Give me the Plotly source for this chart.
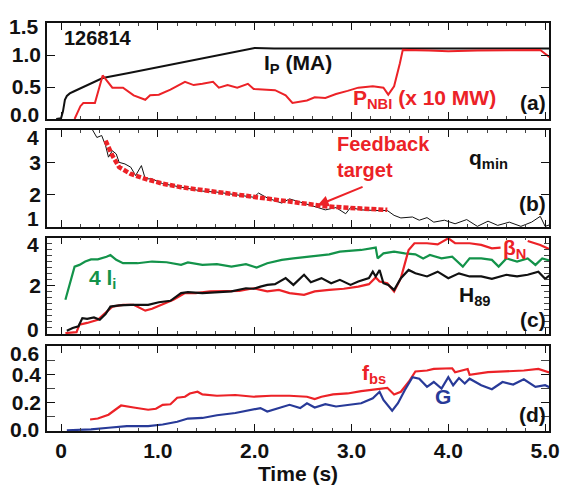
import plotly.graph_objects as go
from plotly.subplots import make_subplots

# ---------------- data ----------------
# panel (a)
ip_t = [-0.05, 0.0, 0.02, 0.04, 0.06, 0.09, 0.13, 0.2, 0.3, 0.43, 0.7, 1.0, 1.3, 1.6, 1.8, 2.0, 2.2, 2.5, 2.8, 3.1, 3.4, 3.7, 4.0, 4.3, 4.6, 4.9, 5.09]
ip_v = [0.0, 0.01, 0.12, 0.3, 0.36, 0.4, 0.43, 0.48, 0.56, 0.64, 0.72, 0.81, 0.9, 0.99, 1.05, 1.11, 1.1, 1.1, 1.11, 1.1, 1.1, 1.11, 1.1, 1.1, 1.11, 1.1, 1.1]

pnbi_t = [0.14, 0.2, 0.23, 0.35, 0.43, 0.53, 0.64, 0.75, 0.87, 0.92, 1.01, 1.13, 1.28, 1.37, 1.46, 1.57, 1.63, 1.72, 1.82, 1.93, 1.99,
          2.21, 2.32, 2.39, 2.54, 2.62, 2.73, 2.84, 2.96, 3.07, 3.22, 3.33, 3.38, 3.44, 3.5, 3.53, 3.8, 4.0, 4.3, 4.6, 4.95, 5.06]
pnbi_v = [0.0, 0.2, 0.25, 0.25, 0.68, 0.49, 0.49, 0.37, 0.30, 0.37, 0.38, 0.46, 0.58, 0.53, 0.55, 0.58, 0.49, 0.53, 0.49, 0.55, 0.47,
          0.45, 0.37, 0.25, 0.29, 0.34, 0.33, 0.39, 0.44, 0.49, 0.51, 0.49, 0.38, 0.51, 0.87, 1.08, 1.07, 1.06, 1.07, 1.07, 1.08, 0.95]

# panel (b)
qmin_t = [0.32, 0.37, 0.42, 0.46, 0.49, 0.53, 0.57, 0.60, 0.66, 0.72, 0.77, 0.83, 0.87, 0.94, 1.05, 1.16, 1.31, 1.46, 1.61, 1.80, 1.99, 2.04,
          2.13, 2.28, 2.36, 2.47, 2.58, 2.67, 2.73, 2.84, 2.94, 2.99, 3.10, 3.25, 3.37, 3.44, 3.51, 3.63, 3.70, 3.78, 3.85, 3.96,
          4.07, 4.19, 4.30, 4.41, 4.51, 4.63, 4.75, 4.86, 4.95, 5.0, 5.06]
qmin_v = [4.03, 3.77, 3.83, 3.52, 3.16, 3.36, 3.26, 3.0, 2.95, 2.85, 2.59, 2.90, 2.49, 2.49, 2.34, 2.28, 2.18, 2.11, 2.08, 2.01, 1.92, 2.05,
          1.90, 1.74, 1.87, 1.77, 1.67, 1.57, 1.53, 1.60, 1.41, 1.60, 1.53, 1.51, 1.51, 1.36, 1.28, 1.31, 1.21, 1.29, 1.15, 1.21,
          1.10, 1.23, 1.02, 1.18, 1.05, 1.15, 1.02, 1.15, 1.33, 1.02, 1.08]

target_t = [0.46, 0.53, 0.60, 0.72, 0.87, 1.05, 1.24, 1.61, 1.99, 2.36, 2.73, 3.10, 3.37]
target_v = [3.67, 3.21, 2.85, 2.64, 2.49, 2.34, 2.23, 2.08, 1.95, 1.77, 1.64, 1.57, 1.53]

# panel (c)
li_t = [0.045, 0.09, 0.14, 0.19, 0.25, 0.31, 0.38, 0.47, 0.51, 0.57, 0.64, 0.79, 0.94, 1.09, 1.24, 1.31, 1.46, 1.61, 1.76, 1.91, 2.02,
        2.13, 2.28, 2.40, 2.54, 2.66, 2.77, 2.88, 2.99, 3.10, 3.25, 3.27, 3.33, 3.44, 3.55, 3.66, 3.74, 3.81, 3.93, 4.04, 4.15,
        4.22, 4.34, 4.45, 4.52, 4.60, 4.71, 4.82, 4.90, 4.97, 5.06]
li_v = [1.42, 2.11, 2.80, 2.87, 3.01, 3.10, 3.10, 3.21, 3.28, 3.08, 2.94, 2.94, 3.01, 2.98, 2.87, 2.97, 2.87, 2.90, 2.80, 2.90, 2.76,
        2.94, 3.08, 3.14, 3.21, 3.28, 3.31, 3.42, 3.45, 3.49, 3.59, 3.14, 3.35, 3.42, 3.35, 3.31, 3.14, 3.28, 3.14, 3.21, 2.80,
        3.14, 3.14, 3.08, 2.80, 3.14, 3.01, 3.14, 2.87, 3.14, 3.03]

h89_t = [0.06, 0.12, 0.18, 0.22, 0.27, 0.34, 0.40, 0.46, 0.51, 0.60, 0.72, 0.90, 1.01, 1.13, 1.24, 1.31, 1.46, 1.61, 1.76, 1.91, 1.99,
         2.06, 2.13, 2.21, 2.32, 2.40, 2.51, 2.58, 2.69, 2.79, 2.88, 2.99, 3.07, 3.18, 3.22, 3.25, 3.29, 3.33, 3.38, 3.44, 3.51,
         3.59, 3.66, 3.78, 3.89, 4.0, 4.11, 4.22, 4.34, 4.45, 4.60, 4.71, 4.82, 4.93, 5.0, 5.06]
h89_v = [0.14, 0.25, 0.32, 0.66, 0.63, 0.69, 0.59, 0.83, 1.14, 1.19, 1.21, 1.21, 1.32, 1.38, 1.70, 1.74, 1.70, 1.74, 1.77, 1.90, 1.88,
         1.97, 2.04, 2.07, 2.32, 2.04, 2.46, 2.15, 2.32, 2.11, 2.25, 2.04, 2.18, 2.32, 2.59, 2.39, 2.66, 2.11, 2.04, 1.83, 2.32,
         2.66, 2.52, 2.39, 2.59, 2.32, 2.52, 2.39, 2.39, 2.29, 2.46, 2.39, 2.46, 2.59, 2.29, 2.48]

betan_t = [0.045, 0.16, 0.19, 0.27, 0.38, 0.46, 0.53, 0.64, 0.75, 0.87, 0.94, 1.05, 1.16, 1.28, 1.39, 1.54, 1.69, 1.84, 1.99, 2.13,
           2.25, 2.36, 2.51, 2.62, 2.77, 2.92, 3.07, 3.18, 3.25, 3.29, 3.37, 3.44, 3.51, 3.59, 3.65, 3.78, 3.89, 4.0, 4.07, 4.22,
           4.34, 4.45, 4.54, 4.56, 4.80, 4.82, 4.95, 5.06]
betan_v = [0.04, 0.08, 0.39, 0.46, 0.59, 0.87, 1.14, 1.21, 1.21, 0.97, 1.05, 1.24, 1.42, 1.70, 1.70, 1.77, 1.77, 1.79, 1.90, 1.77,
           1.83, 1.70, 1.63, 1.77, 1.83, 1.88, 1.97, 2.07, 2.35, 2.18, 2.11, 1.77, 2.32, 3.49, 3.77, 3.77, 3.72, 3.97, 3.77, 3.77,
           3.70, 3.56, 3.59, None, None, 3.86, 3.70, 3.49]

# panel (d)
fbs_t = [0.30, 0.38, 0.49, 0.62, 0.75, 0.90, 0.98, 1.05, 1.13, 1.20, 1.28, 1.33, 1.41, 1.46, 1.61, 1.80, 1.99, 2.17, 2.36, 2.54, 2.62,
         2.69, 2.81, 2.96, 3.10, 3.25, 3.37, 3.44, 3.51, 3.59, 3.66, 3.78, 3.85, 4.04, 4.07, 4.20, 4.22, 4.41, 4.60, 4.78, 4.93, 5.06]
fbs_v = [0.081, 0.088, 0.115, 0.18, 0.166, 0.150, 0.157, 0.185, 0.189, 0.235, 0.242, 0.265, 0.277, 0.258, 0.249, 0.254, 0.242, 0.249,
         0.249, 0.242, 0.226, 0.242, 0.258, 0.265, 0.282, 0.295, 0.305, 0.258, 0.277, 0.346, 0.42, 0.427, 0.438, 0.443, 0.415, 0.438,
         0.397, 0.415, 0.42, 0.427, 0.438, 0.41]

g_t = [0.06, 0.31, 0.49, 0.68, 0.90, 1.05, 1.20, 1.31, 1.46, 1.61, 1.80, 1.99, 2.06, 2.13, 2.28, 2.36, 2.47, 2.54, 2.62, 2.73, 2.84,
       2.96, 3.10, 3.22, 3.29, 3.33, 3.42, 3.48, 3.55, 3.63, 3.70, 3.78, 3.85, 3.93, 4.0, 4.05, 4.11, 4.17, 4.22, 4.34, 4.45, 4.56,
       4.67, 4.78, 4.90, 5.0, 5.06]
g_v = [0.005, 0.012, 0.023, 0.035, 0.035, 0.046, 0.065, 0.088, 0.092, 0.111, 0.127, 0.150, 0.162, 0.138, 0.166, 0.185, 0.162, 0.196,
       0.166, 0.189, 0.173, 0.185, 0.196, 0.231, 0.277, 0.219, 0.143, 0.196, 0.288, 0.38, 0.369, 0.312, 0.346, 0.30, 0.38, 0.323,
       0.374, 0.335, 0.369, 0.323, 0.295, 0.346, 0.328, 0.365, 0.312, 0.323, 0.305]

x_tickvals = [0, 1, 2, 3, 4, 5]
x_ticktext = ["0", "1.0", "2.0", "3.0", "4.0", "5.0"]

# y tick values / labels per panel (a..d)
y_tickvals = [[0, 0.5, 1.0, 1.5], [1, 2, 3, 4], [0, 2, 4], [0, 0.2, 0.4, 0.6]]
y_ticktext = [["0.0", "0.5", "1.0", "1.5"], ["1", "2", "3", "4"], ["0", "2", "4"], ["0.0", "0.2", "0.4", "0.6"]]
y_ranges = [[0, 1.5], [1, 4], [0, 4], [0, 0.6]]

# ---------------- styles ----------------
RED = "#ec2227"
GREEN = "#13934a"
BLUE = "#283a98"
BLACK = "#111111"
FONT = "Liberation Sans, Arial, Helvetica, sans-serif"
TICKSIZE = 21

fig = make_subplots(rows=4, cols=1, shared_xaxes=True)

fig.add_trace(go.Scatter(x=ip_t, y=ip_v, mode="lines", line=dict(color=BLACK, width=2)), row=1, col=1)
fig.add_trace(go.Scatter(x=pnbi_t, y=pnbi_v, mode="lines", line=dict(color=RED, width=2)), row=1, col=1)

fig.add_trace(go.Scatter(x=qmin_t, y=qmin_v, mode="lines", line=dict(color=BLACK, width=1)), row=2, col=1)
fig.add_trace(go.Scatter(x=target_t, y=target_v, mode="lines", line=dict(color=RED, width=4.5, dash="5px,2px")), row=2, col=1)

fig.add_trace(go.Scatter(x=li_t, y=li_v, mode="lines", line=dict(color=GREEN, width=2.2)), row=3, col=1)
fig.add_trace(go.Scatter(x=betan_t, y=betan_v, mode="lines", line=dict(color=RED, width=2.2), connectgaps=False), row=3, col=1)
fig.add_trace(go.Scatter(x=h89_t, y=h89_v, mode="lines", line=dict(color=BLACK, width=2.2)), row=3, col=1)

fig.add_trace(go.Scatter(x=fbs_t, y=fbs_v, mode="lines", line=dict(color=RED, width=2.2)), row=4, col=1)
fig.add_trace(go.Scatter(x=g_t, y=g_v, mode="lines", line=dict(color=BLUE, width=2.2)), row=4, col=1)

domains = [[0.7647, 1.0], [0.5, 0.7377], [0.2377, 0.4738], [0.0, 0.2083]]
tickfont = dict(family=FONT, size=TICKSIZE, color=BLACK, weight="bold")

for i in range(4):
    ax = "xaxis" if i == 0 else f"xaxis{i+1}"
    fig.layout[ax].update(
        range=[-0.145, 5.04], tickvals=x_tickvals, ticktext=x_ticktext, automargin=False,
        showticklabels=(i == 3), ticks="inside", ticklen=7, tickwidth=1, tickcolor=BLACK,
        minor=dict(dtick=0.2, ticks="inside", ticklen=3, tickcolor="#444"),
        showline=True, linecolor=BLACK, linewidth=1.5, mirror="allticks",
        showgrid=False, zeroline=False, tickfont=tickfont,
    )

minors = [None,
          None,
          dict(dtick=0.25, ticks="inside", ticklen=5, tickcolor="#444"),
          dict(dtick=0.1, ticks="inside", ticklen=8, tickcolor="#444")]
# extreme labels are nudged inward as in the original figure: (label index, pixel shift)
nudges = [[(0, 5), (3, -3)], [(0, 8), (3, -7)], [(0, 5), (2, -7)], [(0, 2), (3, -7)]]

for i in range(4):
    ay = "yaxis" if i == 0 else f"yaxis{i+1}"
    texts = list(y_ticktext[i])
    for idx, _ in nudges[i]:
        texts[idx] = ""
    upd = dict(
        domain=domains[i], range=y_ranges[i], tickvals=y_tickvals[i], ticktext=texts, automargin=False,
        ticks="inside", ticklen=8, tickwidth=1, tickcolor=BLACK,
        showline=True, linecolor=BLACK, linewidth=1.5, mirror="allticks",
        showgrid=False, zeroline=False, tickfont=tickfont,
    )
    if minors[i] is not None:
        upd["minor"] = minors[i]
    fig.layout[ay].update(**upd)
    yref = "y" if i == 0 else f"y{i+1}"
    for idx, shift in nudges[i]:
        fig.add_annotation(text=y_ticktext[i][idx], x=0, xref="paper", xanchor="right", xshift=-6,
                           y=y_tickvals[i][idx], yref=yref, yanchor="middle", yshift=shift,
                           showarrow=False, font=tickfont)

fig.layout.xaxis4.title = dict(text="Time (s)", font=dict(family=FONT, size=21, color=BLACK, weight="bold"), standoff=2)

def ann(text, x, y, xref, yref, color, size=20, xanchor="center", yanchor="middle"):
    fig.add_annotation(text=text, x=x, y=y, xref=xref, yref=yref, showarrow=False,
                       font=dict(family=FONT, size=size, color=color, weight="bold"),
                       xanchor=xanchor, yanchor=yanchor)

ann("126814", 0.01, 1.27, "x", "y", BLACK, size=20, xanchor="left")
ann("I<sub>P</sub> (MA)", 2.45, 0.86, "x", "y", BLACK, size=21)
ann("P<sub>NBI</sub> (x 10 MW)", 3.0, 0.32, "x", "y", RED, size=21, xanchor="left")

fig.add_annotation(text="Feedback<br>target", x=3.33, y=3.16, xref="x2", yref="y2", showarrow=False,
                   align="left", font=dict(family=FONT, size=20, color=RED, weight="bold"))
fig.add_annotation(text="", x=2.65, y=1.67, xref="x2", yref="y2",
                   ax=3.13, ay=2.26, axref="x2", ayref="y2", showarrow=True,
                   arrowhead=2, arrowsize=1.1, arrowwidth=2, arrowcolor=RED)
ann("q<sub>min</sub>", 4.42, 3.1, "x2", "y2", BLACK, size=21)

ann("4 l<sub>i</sub>", 0.43, 2.3, "x3", "y3", GREEN, size=21)
ann("β<sub>N</sub>", 4.68, 3.55, "x3", "y3", RED, size=21)
ann("H<sub>89</sub>", 4.28, 1.58, "x3", "y3", BLACK, size=21)
ann("f<sub>bs</sub>", 3.23, 0.4, "x4", "y4", RED, size=21)
ann("G", 3.95, 0.245, "x4", "y4", BLUE, size=21)

panel_labels = ["(a)", "(b)", "(c)", "(d)"]
panel_label_y = [0.26, 1.74, 0.59, 0.115]
for i in range(4):
    xr = "x domain" if i == 0 else f"x{i+1} domain"
    yr = "y" if i == 0 else f"y{i+1}"
    fig.add_annotation(text=panel_labels[i], x=1, xref=xr, xanchor="right", xshift=-1,
                       y=panel_label_y[i], yref=yr, yanchor="middle", showarrow=False,
                       font=dict(family=FONT, size=21, color=BLACK, weight="bold"))

fig.update_layout(
    width=561, height=487,
    margin=dict(l=47, r=12, t=23, b=56, autoexpand=False),
    paper_bgcolor="white", plot_bgcolor="white",
    showlegend=False,
    font=dict(family=FONT, color=BLACK),
)

fig.write_html("out.html")
